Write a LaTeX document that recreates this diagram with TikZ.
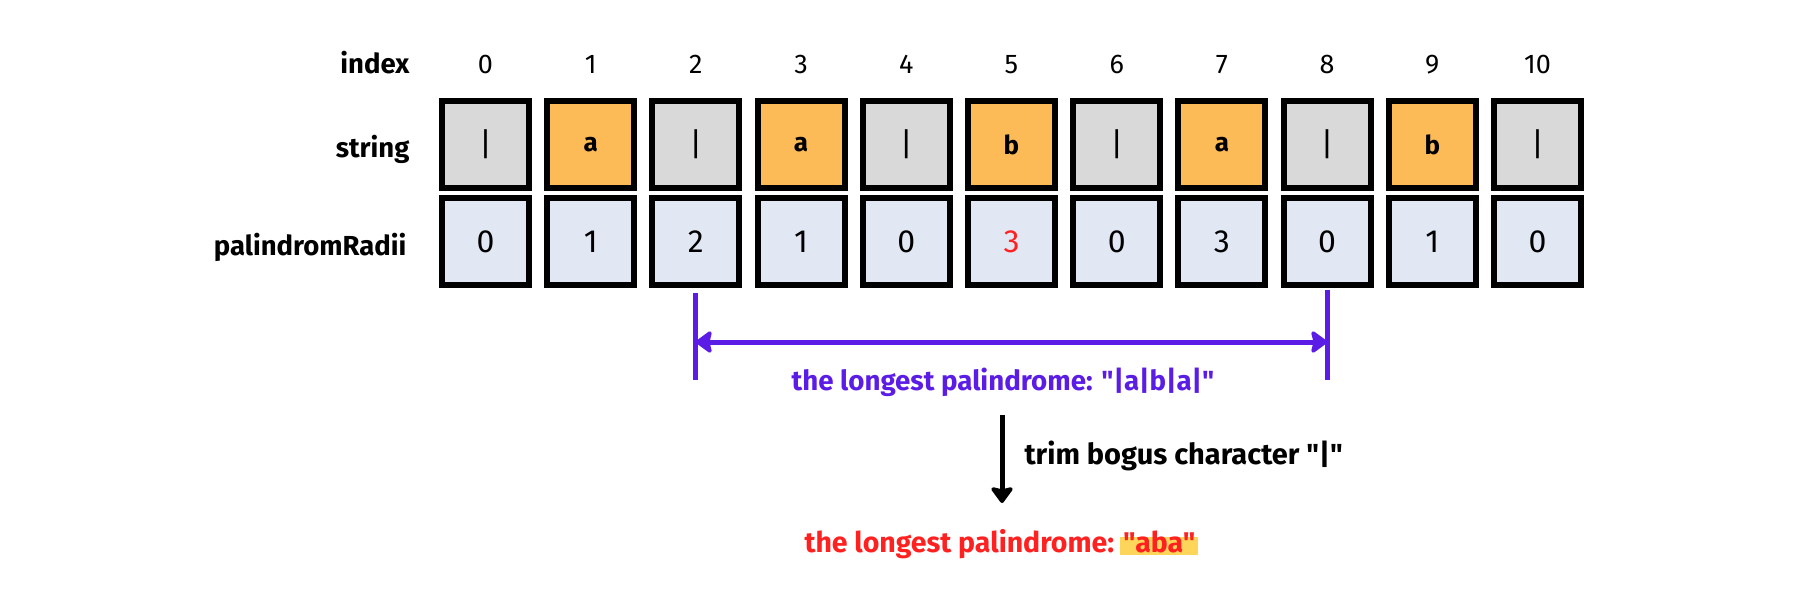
\documentclass[tikz,border=0pt]{standalone}
\usepackage{fontspec}
\setmainfont{Fira Sans}[Ligatures=TeXOff]
\usetikzlibrary{arrows.meta,calc}
\definecolor{cgrey}{HTML}{D9D9D9}
\definecolor{corange}{HTML}{FDBB58}
\definecolor{cblue}{HTML}{E1E8F4}
\definecolor{cpurple}{HTML}{5B1CE6}
\definecolor{cred}{HTML}{FF2020}
\definecolor{cyel}{HTML}{FDD55A}
\newcommand\fsz[1]{\fontsize{#1pt}{#1pt}\selectfont}
\newsavebox\hlb
\newcommand\hlmark[1]{\sbox\hlb{#1}\rlap{\hspace{-3pt}\textcolor{cyel}{\rule[-3pt]{\dimexpr\wd\hlb+6pt\relax}{18pt}}}\usebox\hlb}
\begin{document}
\begin{tikzpicture}[x=1pt,y=-1pt,
  cellbox/.style={draw=black,line width=6pt,minimum size=87pt,inner sep=0pt,text=black},
  gcell/.style={cellbox,fill=cgrey,font=\fsz{32}},
  ocell/.style={cellbox,fill=corange,font=\fsz{26}\bfseries},
  rcell/.style={cellbox,fill=cblue,font=\fsz{32}},
  idxlab/.style={anchor=base,font=\fsz{27}},
  rowlab/.style={anchor=base east,font=\fsz{27.5}\bfseries},
  purp/.style={draw=cpurple,line width=5pt},
  blk/.style={draw=black,line width=5pt}]
\useasboundingbox (0,0) rectangle (1800,600);
% row labels
\node[rowlab] (lindex) at (413,73) {index};
\node[rowlab] (lstring) at (413,157) {string};
\node[rowlab] (lradii) at (410,255) {palindromRadii};
% index numbers
\foreach \i in {0,...,10}
  \node[idxlab] (i\i) at ({485.5+105.2*\i},73) {\i};
% string cells
\foreach \i/\ch/\st in {0/{|}/gcell,1/a/ocell,2/{|}/gcell,3/a/ocell,4/{|}/gcell,5/b/ocell,6/{|}/gcell,7/a/ocell,8/{|}/gcell,9/b/ocell,10/{|}/gcell}
  \node[\st] (s\i) at ({485.5+105.2*\i},144.5) {\ch};
% radii cells
\foreach \i/\v/\c in {0/0/black,1/1/black,2/2/black,3/1/black,4/0/black,5/3/cred,6/0/black,7/3/black,8/0/black,9/1/black,10/0/black}
  \node[rcell,text=\c] (r\i) at ({485.5+105.2*\i},241.5) {\v};
% purple bracket
\coordinate (lt) at ($(r2.south)+(0,5)$);
\coordinate (lb) at ($(r2.south)+(0,92)$);
\coordinate (lm) at ($(r2.south)+(0,54)$);
\coordinate (rt) at ($(r8.south)+(0,2)$);
\coordinate (rb) at ($(r8.south)+(0,92)$);
\coordinate (rm) at ($(r8.south)+(0,54)$);
\draw[purp] (lt) -- (lb);
\draw[purp] (rt) -- (rb);
\draw[purp,{Stealth[length=18pt,width=26pt,inset=3pt,round]}-{Stealth[length=18pt,width=26pt,inset=3pt,round]}] (lm) -- (rm);
\node[anchor=base,text=cpurple,font=\fsz{27.7}\bfseries] (plab) at (1003,390) {the longest palindrome: "|a|b|a|"};
% trim arrow
\coordinate (ta) at (1002,415);
\coordinate (tb) at (1002,503);
\draw[blk,-{Stealth[length=18pt,width=26pt,inset=3pt,round]}] (ta) -- (tb);
\node[anchor=base west,text=black,font=\fsz{29}\bfseries] (tlab) at (1021,464) {trim bogus character "|"};
% result
\node[anchor=base,text=cred,font=\fsz{28.5}\bfseries] (res) at (1000,552) {the longest palindrome: \hlmark{"aba"}};
\end{tikzpicture}
\end{document}
